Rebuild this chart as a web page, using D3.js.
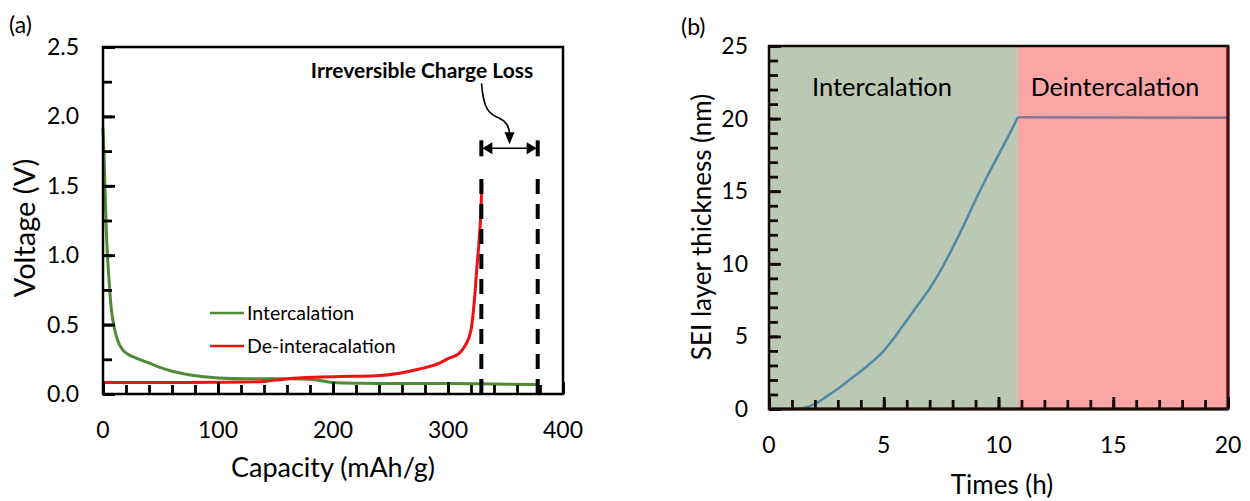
<!DOCTYPE html>
<html>
<head>
<meta charset="utf-8">
<script src="https://cdn.jsdelivr.net/npm/d3@7.9.0/dist/d3.min.js"></script>
<style>
  body { margin: 0; background: #fff; }
  svg { display: block; font-family: Lato, "Open Sans", sans-serif; }
  .tk path { display: none; }
</style>
</head>
<body>
<svg id="fig" width="1250" height="501"></svg>
<script>
// ---- panel (a) data: capacity (mAh/g) vs voltage (V)
const interCap = [0, 1, 2, 3, 5, 7, 10, 13, 17, 21, 30, 41, 50, 61, 70, 81, 90, 100, 125, 150, 165, 180, 190, 200, 225, 250, 300, 340, 378];
const interV = [1.92, 1.7, 1.4, 1.15, 0.85, 0.63, 0.47, 0.38, 0.32, 0.29, 0.255, 0.22, 0.19, 0.162, 0.146, 0.132, 0.123, 0.116, 0.11, 0.11, 0.11, 0.106, 0.095, 0.083, 0.077, 0.075, 0.075, 0.072, 0.068];
const deinterCap = [0, 50, 100, 135, 150, 165, 200, 238, 258, 275, 292, 300, 310, 315, 320, 323, 325, 327, 328.5, 329.5];
const deinterV = [0.082, 0.082, 0.084, 0.088, 0.1, 0.113, 0.125, 0.132, 0.15, 0.18, 0.22, 0.255, 0.295, 0.35, 0.46, 0.68, 0.9, 1.1, 1.3, 1.52];
const lossBounds = [329, 378];   // dashed lines
const lossBarV = 1.77;
const dashTopV = 1.62;
const capTicks = [0, 100, 200, 300, 400];
const voltTicks = [0, 0.5, 1.0, 1.5, 2.0, 2.5];

// ---- panel (b) data: time (h) vs SEI thickness (nm)
const seiTime = [0, 1, 1.3, 1.6, 2, 2.5, 3, 3.5, 4, 4.5, 5, 5.5, 6, 6.5, 7, 7.5, 8, 8.5, 9, 9.5, 10, 10.5, 10.85];
const seiThick = [0, 0, 0.02, 0.1, 0.35, 0.85, 1.4, 2.0, 2.6, 3.25, 4.0, 5.0, 6.1, 7.2, 8.3, 9.6, 11.1, 12.7, 14.4, 16.0, 17.5, 19.0, 20.1];
const flatTime = [10.85, 20];
const flatThick = [20.1, 20.05];
const switchTime = 10.85;
const timeTicks = [0, 5, 10, 15, 20];
const thickTicks = [0, 5, 10, 15, 20, 25];

const svg = d3.select("#fig");

// inward pointing ticks (no labels) along bottom and left edges, via d3.axis
function ticksInside(g, x, y, xMinor, yMinor, xMajor, yMajor, color) {
  const y0 = y(y.domain()[0]), x0 = x(x.domain()[0]);
  const add = (axis, tf) => {
    const a = g.append("g").attr("class", "tk").attr("transform", tf)
      .call(axis.tickFormat(""));
    a.selectAll("line").attr("stroke", color).attr("stroke-width", 2.8);
  };
  add(d3.axisBottom(x).tickValues(xMinor).tickSizeInner(-9).tickSizeOuter(0), `translate(0,${y0})`);
  add(d3.axisBottom(x).tickValues(xMajor).tickSizeInner(-12).tickSizeOuter(0), `translate(0,${y0})`);
  add(d3.axisLeft(y).tickValues(yMinor).tickSizeInner(-9).tickSizeOuter(0), `translate(${x0},0)`);
  add(d3.axisLeft(y).tickValues(yMajor).tickSizeInner(-12).tickSizeOuter(0), `translate(${x0},0)`);
}

// ================= panel (a)
{
  const x = d3.scaleLinear().domain([0, 400]).range([103, 563]);
  const y = d3.scaleLinear().domain([0, 2.5]).range([394, 47]);
  const g = svg.append("g");

  const line = d3.line().x(d => x(d[0])).y(d => y(d[1])).curve(d3.curveMonotoneX);

  g.append("path").datum(interCap.map((c, i) => [c, interV[i]]))
    .attr("d", line)
    .attr("fill", "none").attr("stroke", "#4f8a35").attr("stroke-width", 3);
  g.append("path").datum(deinterCap.map((c, i) => [c, deinterV[i]]))
    .attr("d", line)
    .attr("fill", "none").attr("stroke", "#ee1111").attr("stroke-width", 3);

  // dashed bounds
  g.selectAll(".bound").data(lossBounds).enter().append("line")
    .attr("x1", d => x(d)).attr("x2", d => x(d))
    .attr("y1", y(0)).attr("y2", y(dashTopV))
    .attr("stroke", "#000").attr("stroke-width", 4)
    .attr("stroke-dasharray", "15 10");

  // frame + ticks
  g.append("rect").attr("x", x(0)).attr("y", y(2.5))
    .attr("width", x(400) - x(0)).attr("height", y(0) - y(2.5))
    .attr("fill", "none").attr("stroke", "#000").attr("stroke-width", 2.5);
  ticksInside(g, x, y, d3.range(0, 401, 20), d3.range(0, 11).map(k => k * 0.25),
    capTicks, voltTicks, "#000");

  g.selectAll(".xl").data(capTicks).enter().append("text")
    .attr("x", d => x(d)).attr("y", 438).attr("text-anchor", "middle")
    .attr("font-size", 23).text(d => d);
  g.selectAll(".yl").data(voltTicks).enter().append("text")
    .attr("x", 79).attr("y", d => y(d) + 8).attr("text-anchor", "end")
    .attr("font-size", 23).text(d => d.toFixed(1));

  g.append("text").attr("x", 333).attr("y", 477).attr("text-anchor", "middle")
    .attr("font-size", 27).text("Capacity (mAh/g)");
  g.append("text").attr("transform", "translate(35,228) rotate(-90)")
    .attr("text-anchor", "middle").attr("font-size", 29).text("Voltage (V)");
  g.append("text").attr("x", 9).attr("y", 33).attr("font-size", 23).text("(a)");

  // legend
  const legend = [["Intercalation", "#4f8a35", 313], ["De-interacalation", "#ee1111", 346]];
  legend.forEach(([name, col, ly]) => {
    g.append("line").attr("x1", 210).attr("x2", 244).attr("y1", ly).attr("y2", ly)
      .attr("stroke", col).attr("stroke-width", 2.5);
    g.append("text").attr("x", 247).attr("y", ly + 7).attr("font-size", 19.5).text(name);
  });

  // irreversible charge loss annotation
  const by = y(lossBarV), xl = x(lossBounds[0]), xr = x(lossBounds[1]);
  g.append("line").attr("x1", xl + 4).attr("x2", xr - 4).attr("y1", by).attr("y2", by)
    .attr("stroke", "#000").attr("stroke-width", 1.6);
  [xl, xr].forEach(xx => g.append("line").attr("x1", xx).attr("x2", xx)
    .attr("y1", by - 8).attr("y2", by + 8).attr("stroke", "#000").attr("stroke-width", 4));
  g.append("path").attr("d", `M${xl + 1},${by} l10,-6 l0,12 z`).attr("fill", "#000");
  g.append("path").attr("d", `M${xr - 1},${by} l-10,-6 l0,12 z`).attr("fill", "#000");
  const mx = (xl + xr) / 2;
  g.append("path")
    .attr("d", `M${mx - 28},${by - 65} C${mx - 26},${by - 38} ${mx - 20},${by - 34} ${mx - 10},${by - 30} C${mx - 2},${by - 26} ${mx},${by - 20} ${mx},${by - 14}`)
    .attr("fill", "none").attr("stroke", "#000").attr("stroke-width", 1.6);
  g.append("path").attr("d", `M${mx},${by - 4} l-5,-12 l10,0 z`).attr("fill", "#000");
  g.append("text").attr("x", 422).attr("y", 78).attr("text-anchor", "middle")
    .attr("font-size", 21).attr("font-weight", "bold").text("Irreversible Charge Loss");
}

// ================= panel (b)
{
  const x = d3.scaleLinear().domain([0, 20]).range([769, 1228]);
  const y = d3.scaleLinear().domain([0, 25]).range([409, 46]);
  const g = svg.append("g");

  g.append("rect").attr("x", x(0)).attr("y", y(25))
    .attr("width", x(switchTime) - x(0)).attr("height", y(0) - y(25)).attr("fill", "#bbc8b4");
  g.append("rect").attr("x", x(switchTime)).attr("y", y(25))
    .attr("width", x(20) - x(switchTime)).attr("height", y(0) - y(25)).attr("fill", "#fca5a5");

  g.append("path").datum(seiTime.map((t, i) => [t, seiThick[i]]))
    .attr("d", d3.line().x(d => x(d[0])).y(d => y(d[1])).curve(d3.curveMonotoneX))
    .attr("fill", "none").attr("stroke", "#4f8aa8").attr("stroke-width", 2.5);
  g.append("path").datum(flatTime.map((t, i) => [t, flatThick[i]]))
    .attr("d", d3.line().x(d => x(d[0])).y(d => y(d[1])))
    .attr("fill", "none").attr("stroke", "#8a7598").attr("stroke-width", 2.5);

  g.append("rect").attr("x", x(0)).attr("y", y(25))
    .attr("width", x(20) - x(0)).attr("height", y(0) - y(25))
    .attr("fill", "none").attr("stroke", "#120606").attr("stroke-width", 2.5);
  g.append("line").attr("x1", x(20)).attr("x2", x(20)).attr("y1", y(25)).attr("y2", y(0))
    .attr("stroke", "#4a0a0a").attr("stroke-width", 3);
  g.append("line").attr("x1", x(0)).attr("x2", x(20)).attr("y1", y(0)).attr("y2", y(0))
    .attr("stroke", "#1a0a08").attr("stroke-width", 3);
  ticksInside(g, x, y, d3.range(0, 21, 1), d3.range(0, 26, 1), timeTicks, thickTicks, "#140808");

  g.selectAll(".xl").data(timeTicks).enter().append("text")
    .attr("x", d => x(d)).attr("y", 453).attr("text-anchor", "middle")
    .attr("font-size", 23).text(d => d);
  g.selectAll(".yl").data(thickTicks).enter().append("text")
    .attr("x", 748).attr("y", d => y(d) + 8).attr("text-anchor", "end")
    .attr("font-size", 23).text(d => d);

  g.append("text").attr("x", 1002).attr("y", 494).attr("text-anchor", "middle")
    .attr("font-size", 26).text("Times (h)");
  g.append("text").attr("transform", "translate(711,227) rotate(-90)")
    .attr("text-anchor", "middle").attr("font-size", 26).text("SEI layer thickness (nm)");
  g.append("text").attr("x", 681).attr("y", 35).attr("font-size", 23).text("(b)");

  g.append("text").attr("x", 882).attr("y", 96).attr("text-anchor", "middle")
    .attr("font-size", 25.5).text("Intercalation");
  g.append("text").attr("x", 1115).attr("y", 96).attr("text-anchor", "middle")
    .attr("font-size", 25).text("Deintercalation");
}
</script>
</body>
</html>
